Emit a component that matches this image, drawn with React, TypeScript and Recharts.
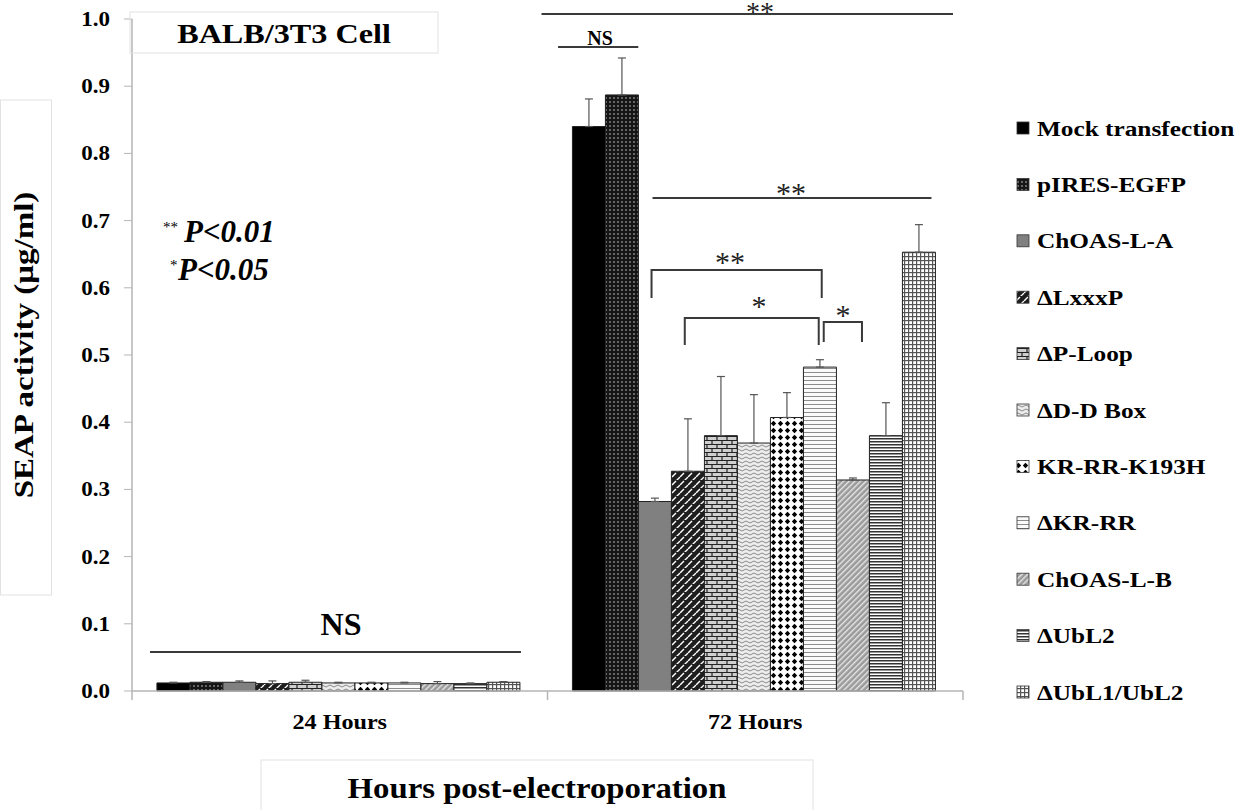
import { Bar, BarChart, ErrorBar, XAxis, YAxis } from 'recharts';

const categories = ['24 Hours', '72 Hours'];
const seriesNames = [
  'Mock transfection',
  'pIRES-EGFP',
  'ChOAS-L-A',
  'ΔLxxxP',
  'ΔP-Loop',
  'ΔD-D Box',
  'KR-RR-K193H',
  'ΔKR-RR',
  'ChOAS-L-B',
  'ΔUbL2',
  'ΔUbL1/UbL2',
];
const values24h = [0.012, 0.013, 0.013, 0.011, 0.013, 0.012, 0.012, 0.012, 0.011, 0.011, 0.013];
const errors24h = [0.001, 0.001, 0.002, 0.004, 0.003, 0.001, 0.001, 0.001, 0.003, 0.001, 0.001];
const values72h = [0.84, 0.887, 0.282, 0.327, 0.38, 0.369, 0.407, 0.482, 0.314, 0.38, 0.653];
const errors72h = [0.041, 0.055, 0.005, 0.078, 0.088, 0.072, 0.037, 0.011, 0.003, 0.049, 0.041];
const yTicks = [0, 0.1, 0.2, 0.3, 0.4, 0.5, 0.6, 0.7, 0.8, 0.9, 1.0];

const allValues = [values24h, values72h];
const allErrors = [errors24h, errors72h];

const data = categories.map((name, ci) => {
  const row: Record<string, any> = { name };
  seriesNames.forEach((_, i) => {
    row[`s${i}`] = allValues[ci][i];
    row[`e${i}`] = [0, allErrors[ci][i]];
  });
  return row;
});

const fills = [
  '#000',
  'url(#pat1)',
  '#808080',
  'url(#pat3)',
  'url(#pat4)',
  'url(#pat5)',
  'url(#pat6)',
  'url(#pat7)',
  'url(#pat8)',
  'url(#pat9)',
  'url(#pat10)',
];

const FONT = "'Liberation Serif', 'Times New Roman', Times, serif";
const W = 1245;
const H = 810;
const plotLeft = 132;
const plotRight = 963;
const plotTop = 19;
const plotBottom = 691;
const axisGray = '#b5b5b5';
const boxGray = '#e2e2e2';
const annot = '#3a3a3a';

// bar geometry, matches barCategoryGap="6%" / barGap=0
const catW = (plotRight - plotLeft) / categories.length;
const gap = catW * 0.06;
const barW = (catW - 2 * gap) / seriesNames.length;
const barCx = (c: number, i: number) => plotLeft + c * catW + gap + (i + 0.5) * barW;

function Patterns() {
  return (
    <svg width={0} height={0} style={{ position: 'absolute' }}>
      <defs>
        <pattern id="pat1" width="4" height="4" patternUnits="userSpaceOnUse">
          <rect width="4" height="4" fill="#161616" />
          <rect x="1" y="1" width="2" height="2" fill="#666" />
        </pattern>
        <pattern id="pat3" width="8" height="8" patternUnits="userSpaceOnUse">
          <rect width="8" height="8" fill="#1e1e1e" />
          <path d="M0,5 L4,1 M4,9 L8,5" stroke="#fff" strokeWidth="1.4" />
        </pattern>
        <pattern id="pat4" width="10" height="8" patternUnits="userSpaceOnUse">
          <rect width="10" height="8" fill="#cfcfcf" />
          <path d="M0,0.5 H10 M0,4.5 H10 M2,0.5 V4.5 M7,4.5 V8" stroke="#222" strokeWidth="1.2" />
        </pattern>
        <pattern id="pat5" width="8" height="4" patternUnits="userSpaceOnUse">
          <rect width="8" height="4" fill="#ededed" />
          <path d="M0,2 Q2,0 4,2 T8,2" fill="none" stroke="#8a8a8a" strokeWidth="1" />
        </pattern>
        <pattern id="pat6" width="7" height="7" patternUnits="userSpaceOnUse">
          <rect width="7" height="7" fill="#fff" />
          <path d="M3.5,0.8 L6.2,3.5 L3.5,6.2 L0.8,3.5Z" fill="#000" />
        </pattern>
        <pattern id="pat7" width="4" height="4" patternUnits="userSpaceOnUse">
          <rect width="4" height="4" fill="#fafafa" />
          <rect width="4" height="1" fill="#8c8c8c" />
        </pattern>
        <pattern id="pat8" width="4" height="4" patternUnits="userSpaceOnUse" patternTransform="rotate(45)">
          <rect width="4" height="4" fill="#9a9a9a" />
          <rect width="1.4" height="4" fill="#e6e6e6" />
        </pattern>
        <pattern id="pat9" width="4" height="3" patternUnits="userSpaceOnUse">
          <rect width="4" height="3" fill="#fff" />
          <rect width="4" height="1.5" fill="#333" />
        </pattern>
        <pattern id="pat10" width="4" height="4" patternUnits="userSpaceOnUse">
          <rect width="4" height="4" fill="#fff" />
          <rect width="4" height="1.2" fill="#555" />
          <rect width="1.2" height="4" fill="#555" />
        </pattern>
      </defs>
    </svg>
  );
}

const YTick = (props: any) => {
  const { y, payload } = props;
  return (
    <text
      transform={`translate(${plotLeft - 22},${y + 7}) scale(1.15,1)`}
      textAnchor="end"
      fontFamily={FONT}
      fontWeight="bold"
      fontSize={20}
      fill="#000"
    >
      {Number(payload.value).toFixed(1)}
    </text>
  );
};

const XTick = (props: any) => {
  const { x, payload } = props;
  return (
    <text
      transform={`translate(${x},${plotBottom + 38}) scale(1.15,1)`}
      textAnchor="middle"
      fontFamily={FONT}
      fontWeight="bold"
      fontSize={21}
      fill="#000"
    >
      {payload.value}
    </text>
  );
};

function Stars({ x, y, text, size = 30 }: { x: number; y: number; text: string; size?: number }) {
  return (
    <text x={x} y={y} textAnchor="middle" fontFamily={FONT} fontSize={size} fill="#222">
      {text}
    </text>
  );
}

function Bracket({ x1, x2, y, leg }: { x1: number; x2: number; y: number; leg: number }) {
  return (
    <path d={`M${x1},${y + leg} V${y} H${x2} V${y + leg}`} fill="none" stroke={annot} strokeWidth={2} />
  );
}

function Overlay() {
  return (
    <svg width={W} height={H} style={{ position: 'absolute', left: 0, top: 0, pointerEvents: 'none' }}>
      {/* boxes */}
      <rect x={130} y={12} width={308} height={41} fill="none" stroke={boxGray} />
      <rect x={0.5} y={100} width={51} height={495} fill="none" stroke={boxGray} />
      <rect x={261} y={760} width={552} height={60} fill="none" stroke={boxGray} />

      <text transform="translate(284,43) scale(1.15,1)" textAnchor="middle" fontFamily={FONT} fontWeight="bold" fontSize={28}>
        BALB/3T3 Cell
      </text>
      <text transform="translate(33,345) rotate(-90) scale(1.18,1)" textAnchor="middle" fontFamily={FONT} fontWeight="bold" fontSize={28}>
        SEAP activity (μg/ml)
      </text>
      <text transform="translate(537,798) scale(1.15,1)" textAnchor="middle" fontFamily={FONT} fontWeight="bold" fontSize={28.5}>
        Hours post-electroporation
      </text>

      {/* p-value key */}
      <text x={163} y={232} fontFamily={FONT} fontSize={15}>**</text>
      <text x={184} y={242} fontFamily={FONT} fontWeight="bold" fontStyle="italic" fontSize={31}>P&lt;0.01</text>
      <text x={170} y={270} fontFamily={FONT} fontSize={15}>*</text>
      <text x={178} y={280} fontFamily={FONT} fontWeight="bold" fontStyle="italic" fontSize={31}>P&lt;0.05</text>

      {/* category boundary ticks */}
      {[0, 1, 2].map((k) => (
        <line key={k} x1={plotLeft + k * catW} x2={plotLeft + k * catW} y1={plotBottom} y2={plotBottom + 9} stroke={axisGray} strokeWidth={1.5} />
      ))}

      {/* 24h NS */}
      <line x1={plotLeft + 18} x2={barCx(0, 10) + 15} y1={652} y2={652} stroke={annot} strokeWidth={2} />
      <text x={341} y={635} textAnchor="middle" fontFamily={FONT} fontWeight="bold" fontSize={32}>NS</text>

      {/* 72h comparisons */}
      <line x1={plotLeft + catW - 6} x2={plotRight - 10} y1={14} y2={14} stroke={annot} strokeWidth={2} />
      <Stars x={760} y={21} text="**" size={28} />
      <line x1={barCx(1, 0) - 31} x2={barCx(1, 1) + 16} y1={47} y2={47} stroke={annot} strokeWidth={2} />
      <text x={600} y={45} textAnchor="middle" fontFamily={FONT} fontWeight="bold" fontSize={20}>NS</text>
      <line x1={barCx(1, 2) - 3} x2={barCx(1, 10) + 10} y1={198} y2={198} stroke={annot} strokeWidth={2} />
      <Stars x={791} y={203} text="**" />
      <Bracket x1={barCx(1, 2) - 4} x2={barCx(1, 7)} y={270} leg={28} />
      <Stars x={730} y={272} text="**" />
      <Bracket x1={barCx(1, 3) - 4} x2={barCx(1, 7) - 3} y={318} leg={27} />
      <Stars x={759} y={316} text="*" />
      <Bracket x1={barCx(1, 7) + 2} x2={barCx(1, 8) + 7} y={322} leg={20} />
      <Stars x={843} y={325} text="*" />

      {/* legend */}
      {seriesNames.map((n, i) => {
        const cy = 128 + i * 56.4;
        return (
          <g key={n}>
            <rect x={1017} y={cy - 6} width={12} height={12} fill={fills[i]} stroke="#333" strokeWidth={0.8} />
            <text transform={`translate(1037,${cy + 7.5}) scale(1.15,1)`} fontFamily={FONT} fontWeight="bold" fontSize={22}>
              {n}
            </text>
          </g>
        );
      })}
    </svg>
  );
}

export default function App() {
  return (
    <div style={{ position: 'absolute', left: 0, top: 0, width: W, height: H, background: '#fff' }}>
      <Patterns />
      <BarChart
        width={W}
        height={H}
        data={data}
        margin={{ top: plotTop, right: W - plotRight, bottom: 79, left: 0 }}
        barCategoryGap="6%"
        barGap={0}
      >
        <XAxis dataKey="name" height={40} axisLine={{ stroke: axisGray, strokeWidth: 1.5 }} tickLine={false} tick={<XTick />} />
        <YAxis
          width={plotLeft}
          domain={[0, 1]}
          ticks={yTicks}
          interval={0}
          axisLine={{ stroke: axisGray, strokeWidth: 1.5 }}
          tickLine={{ stroke: axisGray }}
          tickSize={8}
          tick={<YTick />}
        />
        {seriesNames.map((n, i) => (
          <Bar key={n} dataKey={`s${i}`} name={n} fill={fills[i]} stroke="#222" strokeWidth={1} isAnimationActive={false}>
            <ErrorBar dataKey={`e${i}`} width={4} stroke="#555" strokeWidth={1.2} direction="y" isAnimationActive={false} />
          </Bar>
        ))}
      </BarChart>
      <Overlay />
    </div>
  );
}
